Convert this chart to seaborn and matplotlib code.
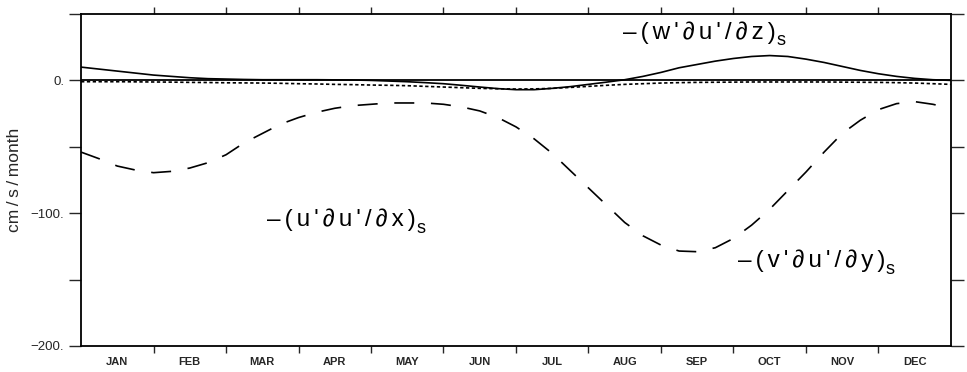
import matplotlib
matplotlib.use("Agg")
import matplotlib.pyplot as plt
import seaborn as sns
import pandas as pd

# Time axis in months (0 = start of January, 12 = end of December), quarter-month steps
months_x = [i * 0.25 for i in range(49)]
month_labels = ["JAN", "FEB", "MAR", "APR", "MAY", "JUN",
                "JUL", "AUG", "SEP", "OCT", "NOV", "DEC"]

# Vertical advection term  -(w' du'/dz)_s   [cm/s/month]
w_term = [10, 8.5, 7, 5.5, 4, 3, 2, 1.3, 1, 0.7, 0.5, 0.5,
          0.5, 0.5, 0.4, 0.3, 0, -0.5, -1, -1.7, -2.5, -3.7, -5, -6.2,
          -7, -7, -6, -4.7, -3, -1.3, 0.5, 3, 6, 9.5, 12, 14.5,
          16.5, 18, 18.7, 18, 16, 13.5, 10.5, 7.5, 5, 3, 1.5, 0.5, 0]
# Zonal advection term  -(u' du'/dx)_s
u_term = [-1, -1, -1, -1.1, -1.2, -1.3, -1.5, -1.6, -1.8, -1.9, -2, -2.2,
          -2.5, -2.7, -3, -3.2, -3.5, -3.7, -4, -4.5, -5, -5.5, -6, -6.3,
          -6.5, -6.4, -6, -5.3, -4.5, -3.7, -3, -2.5, -2, -1.7, -1.5, -1.4,
          -1.3, -1.2, -1.2, -1.2, -1.2, -1.2, -1.3, -1.4, -1.5, -1.7, -2, -2.5, -3]
# Meridional advection term  -(v' du'/dy)_s
v_term = [-54, -59, -64.5, -67.5, -69.5, -68.5, -66, -62, -56, -47, -40, -33,
          -28, -24, -21, -19, -18, -17, -17, -17, -18, -20, -23, -28,
          -35, -44, -55, -68, -81, -94, -107, -117, -124, -128.5, -129, -126,
          -119, -109, -97, -83, -69, -54, -40, -30, -22, -17.5, -16, -18, -21]

df = pd.DataFrame({"month": months_x, "w": w_term, "u": u_term, "v": v_term})

sns.set_style("ticks")
plt.rcParams["font.family"] = ["Liberation Sans", "DejaVu Sans"]

fig = plt.figure(figsize=(9.67, 3.72), dpi=100)
ax = fig.add_axes([0.0838, 0.0699, 0.8996, 0.8925])

ax.axhline(0, color="black", lw=1.3, zorder=1)
sns.lineplot(data=df, x="month", y="w", ax=ax, color="black", lw=1.2)
sns.lineplot(data=df, x="month", y="u", ax=ax, color="black", lw=1.2,
             linestyle=(0, (2, 1.5)))
sns.lineplot(data=df, x="month", y="v", ax=ax, color="black", lw=1.2,
             linestyle=(0, (12, 10)))

ax.set_xlim(0, 12)
ax.set_ylim(-200, 50)

# Month boundaries get ticks, names sit at mid-month
ax.set_xticks(range(1, 12))
ax.set_xticks([m + 0.5 for m in range(12)], minor=True)
ax.set_xticklabels([])
ax.set_xticklabels(month_labels, minor=True, fontsize=8, fontweight="bold")
ax.tick_params(axis="x", which="major", direction="out", length=5,
               top=True, bottom=True, width=1)
ax.tick_params(axis="x", which="minor", length=0, pad=8)

ax.set_yticks([50, 0, -50, -100, -150, -200])
ax.set_yticklabels(["", "0.", "", "\u2212100.", "", "\u2212200."], fontsize=9.5)
ax.tick_params(axis="y", direction="out", length=9, width=1, right=True, pad=3)

for s in ax.spines.values():
    s.set_linewidth(1.3)
    s.set_color("black")

ax.set_xlabel("")
ax.set_ylabel("cm\u2009/\u2009s\u2009/\u2009month", fontsize=12.5, labelpad=6)

GAP = "\u2006"


def term_label(x, y, text):
    main = ax.text(x, y, GAP.join(text), fontsize=17.5, color="black",
                   va="center", ha="left")
    ax.annotate("s", xy=(1, 0), xycoords=main, xytext=(0.5, -1),
                textcoords="offset points", fontsize=13, va="baseline",
                ha="left", color="black")


term_label(7.48, 36, "\u2013(w'\u2202u'/\u2202z)")
term_label(2.57, -105, "\u2013(u'\u2202u'/\u2202x)")
term_label(9.06, -136, "\u2013(v'\u2202u'/\u2202y)")

fig.savefig("out.png", dpi=100)
